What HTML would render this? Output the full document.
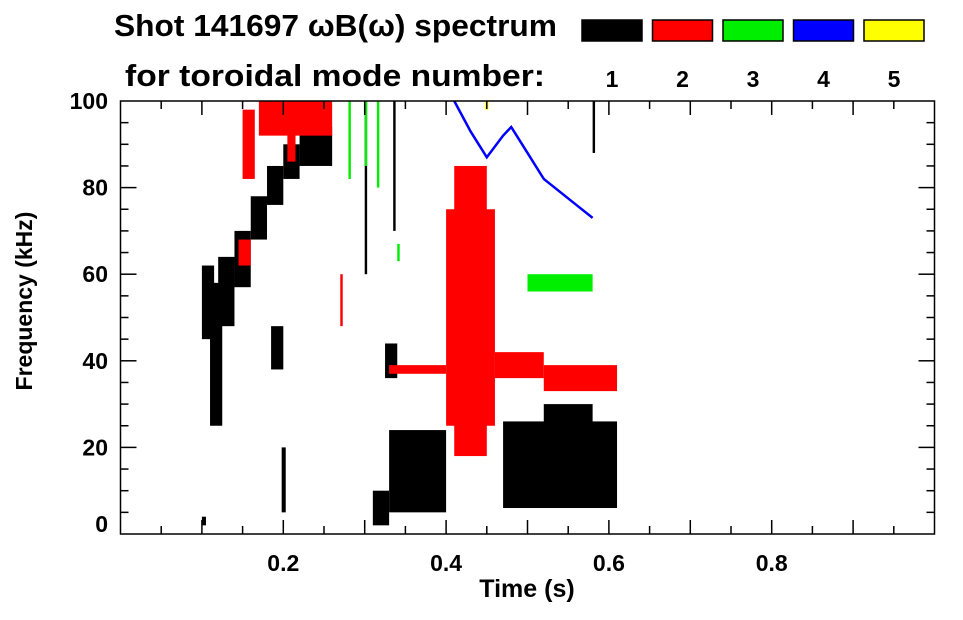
<!DOCTYPE html>
<html><head><meta charset="utf-8"><style>
body{margin:0;background:#fff;}
svg text{font-family:"Liberation Sans",sans-serif;font-weight:bold;}
</style></head><body>
<svg width="963" height="615" viewBox="0 0 963 615">
<g id="marks"></g>
<g id="axes"></g>
<text x="114" y="36" font-size="31" textLength="443" lengthAdjust="spacingAndGlyphs">Shot 141697 ωB(ω) spectrum</text>
<text x="125" y="86" font-size="31" textLength="420" lengthAdjust="spacingAndGlyphs">for toroidal mode number:</text>
<g id="legend"></g>
<text x="527" y="597" font-size="25" text-anchor="middle">Time (s)</text>
<text transform="translate(32,301) rotate(-90)" font-size="23" text-anchor="middle">Frequency (kHz)</text>
</svg>
<script>
const modeNames = ["1","2","3","4","5"];
const modeColors = ["#000000","#ff0000","#00ee00","#0000ff","#ffff00"];
const xTicks = [0.2,0.4,0.6,0.8];
const yTicks = [0,20,40,60,80,100];
// blobs: [tStart, tEnd, fLow, fHigh]
const mode1Blobs = [[0.10,0.115,45,62],[0.11,0.125,25,58],[0.12,0.14,48,64],[0.14,0.16,57,70],[0.16,0.18,68,78],[0.18,0.20,76,85],[0.20,0.22,82,90],[0.22,0.26,85,94],[0.185,0.20,38,48],[0.10,0.105,2,4],[0.198,0.203,5,20],[0.30,0.303,60,100],[0.335,0.338,70,100],[0.31,0.33,2,10],[0.33,0.40,5,24],[0.325,0.34,36,44],[0.47,0.61,6,26],[0.52,0.58,16,30],[0.58,0.583,88,100]];
const mode2Blobs = [[0.15,0.165,82,98],[0.17,0.26,92,100],[0.205,0.215,86,100],[0.145,0.16,62,68],[0.40,0.46,25,75],[0.41,0.45,18,85],[0.46,0.52,36,42],[0.52,0.61,33,39],[0.33,0.40,37,39],[0.27,0.273,48,60]];
const mode3Blobs = [[0.28,0.283,82,100],[0.30,0.303,85,100],[0.315,0.318,80,100],[0.50,0.58,56,60],[0.34,0.343,63,67]];
const mode4Times = [0.41,0.43,0.45,0.47,0.48,0.50,0.52,0.54,0.56,0.58];
const mode4Freqs = [100,93,87,92,94,88,82,79,76,73];
const mode5Blobs = [[0.448,0.452,98,100]];
const allBlobs = [mode1Blobs, mode2Blobs, mode3Blobs, [], mode5Blobs];

const X0=120.5, X1=934.5, Y0=534, Y1=101;
const sx = t => X0 + (X1-X0)*t/1.0;
const sy = f => Y0 - (Y0-Y1)*f/100;
const NS="http://www.w3.org/2000/svg";
function mk(tag, attrs, parent){const e=document.createElementNS(NS,tag);for(const k in attrs)e.setAttribute(k,attrs[k]);parent.appendChild(e);return e;}
const marks=document.getElementById('marks');
allBlobs.forEach((blobs,mi)=>{
  blobs.forEach(b=>{
    const r=mk('rect',{x:sx(b[0]),y:sy(b[3]),width:Math.max(1.5,sx(b[1])-sx(b[0])),height:sy(b[2])-sy(b[3]),fill:modeColors[mi]},marks);
    
    
  });
});
const pl=mk('polyline',{points:mode4Times.map((t,i)=>sx(t)+','+sy(mode4Freqs[i])).join(' '),fill:'none',stroke:modeColors[3],'stroke-width':2.5},marks);



const axes=document.getElementById('axes');
mk('rect',{x:X0,y:Y1,width:X1-X0,height:Y0-Y1,fill:'none',stroke:'#000','stroke-width':1.5},axes);
for(let i=1;i<20;i++){const x=sx(i*0.05);const L=(i%2==0)?14:8;
  mk('line',{x1:x,x2:x,y1:Y0,y2:Y0-L,stroke:'#000','stroke-width':1.5},axes);
  mk('line',{x1:x,x2:x,y1:Y1,y2:Y1+L,stroke:'#000','stroke-width':1.5},axes);}
for(let i=1;i<20;i++){const y=sy(i*5);const L=(i%4==0)?16:8;
  mk('line',{x1:X0,x2:X0+L,y1:y,y2:y,stroke:'#000','stroke-width':1.5},axes);
  mk('line',{x1:X1,x2:X1-L,y1:y,y2:y,stroke:'#000','stroke-width':1.5},axes);}
xTicks.forEach(t=>{const e=mk('text',{x:sx(t),y:571,'font-size':23,'text-anchor':'middle'},axes);e.textContent=t.toFixed(1);
  
  });
yTicks.forEach(f=>{const e=mk('text',{x:108,y:sy(f)+(f==0?-2:8),'font-size':23,'text-anchor':'end'},axes);e.textContent=f;
  
  });
const leg=document.getElementById('legend');
modeNames.forEach((n,i)=>{const x=582+i*70.5;
  const r=mk('rect',{x:x,y:20,width:60,height:21,fill:modeColors[i],stroke:'#000','stroke-width':1.5},leg);
  
  
  const t=mk('text',{x:x+30,y:87,'font-size':23,'text-anchor':'middle'},leg);t.textContent=n;
  
  });
</script>
</body></html>
